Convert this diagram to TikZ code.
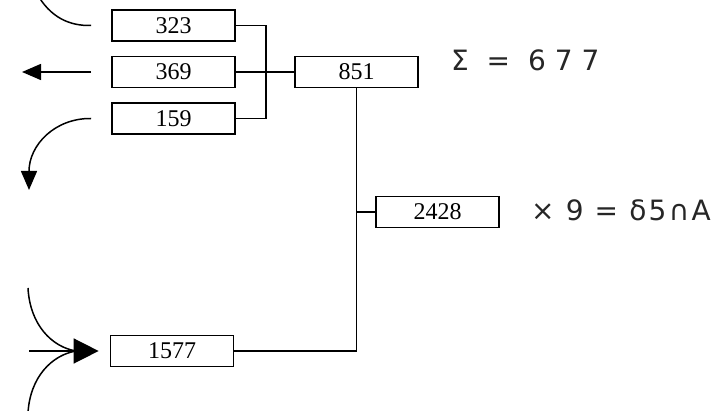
\documentclass[tikz,border=0pt]{standalone}
\usepackage{fontspec}
\newfontfamily\boxfont{Liberation Serif}
\newfontfamily\sumfont[LetterSpace=32]{DejaVu Sans}
\newfontfamily\prodfont[LetterSpace=8]{DejaVu Sans}
\usetikzlibrary{arrows, arrows.meta}
\usetikzlibrary{calc}

\begin{document}
\begin{tikzpicture}[x=1pt, y=-1pt,
    box/.style={draw, line width=1.7pt, inner sep=0pt, minimum width=123pt, minimum height=31pt, font=\boxfont\fontsize{24}{28}\selectfont},
    link/.style={line width=1.5pt},
    flow/.style={line width=1.5pt, -{Triangle[length=19pt, width=16pt]}},
    hand/.style={anchor=west, inner sep=0pt, text=black!85}]
      \useasboundingbox (0,0) rectangle (723,411);

      \node[box] (323) at (173.5,25.5) {323};
      \node[box] (369) at (173.5,72) {369};
      \node[box] (159) at (173.5,118.5) {159};
      \node[box] (851) at (356.5,72) {851};
      \node[box] (2428) at (437.5,212) {2428};
      \node[box] (1577) at (172,351) {1577};

      \node[hand, font=\sumfont\fontsize{28}{32}\selectfont] (sum) at (451,60) {Σ = 677};
      \node[hand, font=\prodfont\fontsize{28}{32}\selectfont] (prod) at (531,210) {× 9 = δ5∩A};

      \draw[link] (323.east) -- ++(30,0) |- (159.east);
      \draw[link] (369) -- (851);
      \draw[link] (851.south) -- (851.south |- 1577) -- (1577.east);
      \draw[link] (851.south |- 2428) -- (2428.west);

      \coordinate (top) at (36,-8);
      \coordinate (in323) at ([xshift=-20pt]323.west);
      \coordinate (out369) at ([xshift=-20pt]369.west);
      \coordinate (left) at (22,72);
      \coordinate (out159) at ([xshift=-20pt]159.west);
      \coordinate (down) at (29,190);
      \coordinate (in1577) at ([xshift=-11pt]1577.west);
      \coordinate (up) at (28,288);
      \coordinate (mid) at (29,351);
      \coordinate (low) at (28,413);
      \coordinate (join) at (76,351);

      \draw[link] (top) .. controls (50,18) and (70,26) .. (in323);
      \draw[flow] (out369) -- (left);
      \draw[flow] (out159) .. controls (55,118) and (29,145) .. (down);
      \draw[link] (up) .. controls (30,325) and (52,347) .. (join);
      \draw[link] (low) .. controls (30,377) and (52,355) .. (join);
      \draw[link, -{Triangle[length=25pt, width=25pt]}] (mid) -- (in1577);
    \end{tikzpicture}
\end{document}
